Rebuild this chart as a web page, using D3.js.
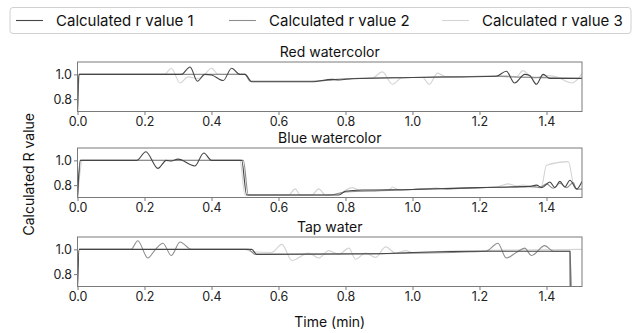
<!DOCTYPE html>
<html>
<head>
<meta charset="utf-8">
<script src="https://cdn.jsdelivr.net/npm/d3@7"></script>
<style>
  body { margin: 0; background: #fff; }
  svg { display: block; font-family: Inter, "Noto Sans", sans-serif; }
</style>
</head>
<body>
<script>
// series names + panel titles
const seriesNames = ["Calculated r value 1", "Calculated r value 2", "Calculated r value 3"];
const panelTitles = ["Red watercolor", "Blue watercolor", "Tap water"];
const xTicks = [0.0, 0.2, 0.4, 0.6, 0.8, 1.0, 1.2, 1.4];
const yTicks = [0.8, 1.0];

// [time (min), r]
const redR1 = [[0,0.70],[0.004,1.0],[0.31,1.0],[0.336,1.06],[0.358,0.945],[0.38,1.0],[0.40,0.995],[0.435,0.95],[0.46,1.05],[0.485,1.0],[0.50,1.0],[0.52,0.94],[0.70,0.94],[0.76,0.96],[0.78,0.955],[0.82,0.965],[1.0,0.975],[1.25,0.985],[1.28,1.025],[1.305,0.93],[1.335,1.0],[1.35,0.99],[1.37,0.92],[1.39,1.0],[1.41,0.967],[1.51,0.967]];
const redR2 = [[0,0.70],[0.006,1.0],[0.50,1.0],[0.515,0.945],[0.70,0.945],[0.76,0.955],[0.80,0.965],[1.0,0.975],[1.25,0.985],[1.30,0.98],[1.51,0.97]];
const redR3 = [[0,0.70],[0.005,1.0],[0.26,1.0],[0.28,1.05],[0.306,0.93],[0.33,0.98],[0.36,0.965],[0.38,1.0],[0.40,1.05],[0.42,1.0],[0.50,1.0],[0.52,0.945],[0.70,0.945],[0.80,0.965],[0.88,0.97],[0.91,1.02],[0.94,0.92],[0.97,0.975],[1.03,0.975],[1.05,0.92],[1.075,1.01],[1.10,0.98],[1.28,0.99],[1.31,0.98],[1.33,1.03],[1.36,0.97],[1.40,0.99],[1.43,0.98],[1.476,0.93],[1.51,1.02]];

const blueR1 = [[0,0.70],[0.008,1.0],[0.177,1.0],[0.204,1.07],[0.24,0.935],[0.265,1.0],[0.28,0.995],[0.30,1.01],[0.35,0.955],[0.377,1.06],[0.40,1.0],[0.49,1.0],[0.505,0.72],[0.78,0.72],[0.80,0.75],[0.85,0.76],[1.0,0.765],[1.2,0.78],[1.35,0.79],[1.37,0.80],[1.386,0.78],[1.41,0.825],[1.425,0.78],[1.44,0.83],[1.455,0.785],[1.47,0.84],[1.49,0.77],[1.506,0.83]];
const blueR2 = [[0,0.70],[0.01,1.0],[0.495,1.0],[0.51,0.72],[0.75,0.72],[0.80,0.745],[0.90,0.755],[1.0,0.765],[1.07,0.775],[1.10,0.77],[1.2,0.78],[1.30,0.785],[1.36,0.79],[1.38,0.78],[1.40,0.81],[1.42,0.775],[1.44,0.815],[1.46,0.78],[1.48,0.82],[1.49,0.765],[1.51,0.77]];
const blueR3 = [[0,0.70],[0.015,1.0],[0.485,1.0],[0.50,0.72],[0.63,0.72],[0.65,0.77],[0.665,0.72],[0.70,0.72],[0.72,0.77],[0.74,0.72],[0.78,0.73],[0.82,0.78],[0.85,0.75],[0.93,0.76],[0.94,0.785],[0.96,0.76],[1.10,0.775],[1.25,0.785],[1.285,0.81],[1.31,0.795],[1.33,0.80],[1.36,0.78],[1.385,0.79],[1.40,0.96],[1.465,0.99],[1.485,0.77],[1.51,0.77]];

const tapR1 = [[0,0.70],[0.005,1.0],[0.52,1.0],[0.535,0.96],[0.90,0.965],[1.0,0.975],[1.22,0.985],[1.47,0.985],[1.471,0.60]];
const tapR2 = [[0,0.70],[0.005,1.0],[0.16,1.0],[0.18,1.07],[0.21,0.93],[0.23,0.99],[0.255,1.05],[0.28,0.95],[0.306,1.06],[0.34,1.0],[0.51,1.0],[0.53,0.96],[0.90,0.965],[1.22,0.985],[1.255,1.05],[1.28,0.93],[1.31,0.975],[1.335,1.01],[1.355,0.95],[1.395,1.03],[1.42,0.985],[1.47,0.985],[1.475,0.60]];
const tapR3 = [[0,0.70],[0.005,1.0],[0.50,1.0],[0.52,0.98],[0.58,0.975],[0.61,1.04],[0.64,0.91],[0.69,0.97],[0.72,0.93],[0.75,0.99],[0.78,0.96],[0.81,1.01],[0.83,0.92],[0.86,0.97],[0.89,0.935],[0.92,1.02],[0.95,0.97],[0.98,0.99],[1.0,0.975],[1.10,0.985],[1.30,0.995],[1.51,1.0]];

const panelData = [[redR1, redR2, redR3], [blueR1, blueR2, blueR3], [tapR1, tapR2, tapR3]];
const colors = ["#454545", "#8e8e8e", "#d4d4d4"];

const W = 638, H = 333;
const left = 77.5, right = 582;
const panelTops = [62, 148, 237];
const panelH = 49.5;

const svg = d3.select("body").append("svg").attr("width", W).attr("height", H);

const x = d3.scaleLinear().domain([0, 1.506]).range([left, right]);

panelData.forEach((series, i) => {
    const top = panelTops[i];
    const y = d3.scaleLinear().domain([0.7, 1.1]).range([top + panelH, top]);
    const g = svg.append("g");

    g.append("clipPath").attr("id", "clip" + i)
        .append("rect").attr("x", left).attr("y", top).attr("width", right - left).attr("height", panelH);

    const line = d3.line().x(d => x(d[0])).y(d => y(d[1])).curve(d3.curveMonotoneX);
    // light first so the dark line sits on top
    [2, 1, 0].forEach(k => {
        g.append("path")
            .attr("clip-path", `url(#clip${i})`)
            .attr("d", line(series[k]))
            .attr("fill", "none")
            .attr("stroke", colors[k])
            .attr("stroke-width", 1.1);
    });

    g.append("rect")
        .attr("x", left).attr("y", top)
        .attr("width", right - left).attr("height", panelH)
        .attr("fill", "none").attr("stroke", "#7a7a7a").attr("stroke-width", 1);

    const xa = g.append("g").attr("transform", `translate(0,${top + panelH})`)
        .call(d3.axisBottom(x).tickValues(xTicks).tickFormat(d3.format(".1f")).tickSize(3.5).tickPadding(2.5));
    const ya = g.append("g").attr("transform", `translate(${left},0)`)
        .call(d3.axisLeft(y).tickValues(yTicks).tickFormat(d3.format(".1f")).tickSize(3.5).tickPadding(2));
    [xa, ya].forEach(a => {
        a.select(".domain").remove();
        a.selectAll("line").attr("stroke", "#7a7a7a");
        a.selectAll("text").attr("font-size", 12.5).attr("fill", "#222").attr("font-family", "Inter");
    });

    g.append("text")
        .attr("x", (left + right) / 2).attr("y", top - 5.5)
        .attr("text-anchor", "middle")
        .attr("font-size", 14).attr("fill", "#111")
        .text(panelTitles[i]);
});

svg.append("text")
    .attr("transform", `translate(34,${(panelTops[0] + panelTops[2] + panelH) / 2}) rotate(-90)`)
    .attr("text-anchor", "middle")
    .attr("font-size", 14).attr("fill", "#111")
    .text("Calculated R value");

svg.append("text")
    .attr("x", (left + right) / 2).attr("y", 327)
    .attr("text-anchor", "middle")
    .attr("font-size", 14).attr("fill", "#111")
    .text("Time (min)");

// legend
const lg = svg.append("g");
lg.append("rect").attr("x", 10).attr("y", 7.5).attr("width", 621).attr("height", 26).attr("rx", 3)
    .attr("fill", "#fff").attr("stroke", "#d0d0d0");
const legendX = [16, 229, 442];
seriesNames.forEach((name, k) => {
    lg.append("line").attr("x1", legendX[k]).attr("x2", legendX[k] + 27)
        .attr("y1", 20.5).attr("y2", 20.5).attr("stroke", colors[k]).attr("stroke-width", 1.1);
    lg.append("text").attr("x", legendX[k] + 40).attr("y", 26)
        .attr("font-size", 15).attr("fill", "#111")
        .text(name);
});
</script>
</body>
</html>
